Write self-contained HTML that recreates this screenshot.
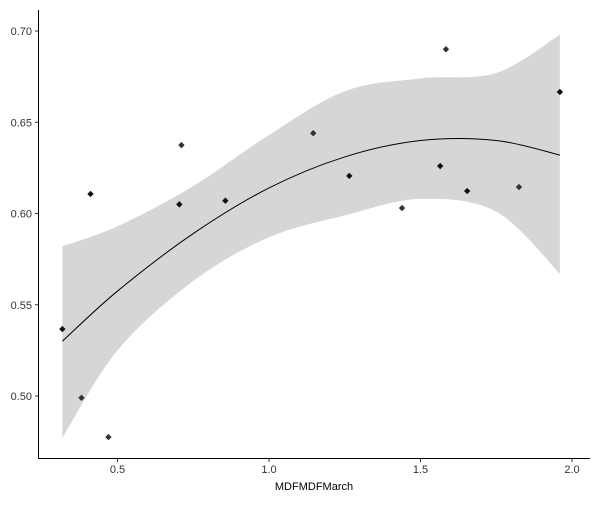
<!DOCTYPE html>
<html><head><meta charset="utf-8"><style>
body{margin:0;background:#fff}
svg text{font-family:"Liberation Sans",sans-serif}
</style></head><body>
<svg id="chart" width="600" height="500"></svg>
<script>
const xs=[0.318,0.381,0.411,0.470,0.704,0.711,0.856,1.146,1.265,1.439,1.565,1.584,1.654,1.825,1.960];
const ys=[0.5367,0.499,0.6107,0.4775,0.605,0.6375,0.607,0.644,0.6206,0.603,0.626,0.690,0.6123,0.6145,0.6666];
const fitX=[0.318,0.5,0.75,1.0,1.25,1.5,1.75,1.960];
const fitY=[0.530,0.5575,0.589,0.614,0.631,0.640,0.640,0.632];
const upperY=[0.582,0.593,0.615,0.643,0.667,0.674,0.677,0.698];
const lowerY=[0.477,0.525,0.563,0.587,0.599,0.608,0.601,0.567];
const xTicks=[0.5,1.0,1.5,2.0];
const xTickLabels=["0.5","1.0","1.5","2.0"];
const yTicks=[0.50,0.55,0.60,0.65,0.70];
const yTickLabels=["0.50","0.55","0.60","0.65","0.70"];
const NS="http://www.w3.org/2000/svg";
const svg=document.getElementById('chart');
const px=x=>117.5+(x-0.5)*303;
const py=v=>31+(0.70-v)*1825;
function el(t,a){const e=document.createElementNS(NS,t);for(const k in a)e.setAttribute(k,a[k]);svg.appendChild(e);return e;}
function smooth(X,Y){
  const p=X.map((x,i)=>[px(x),py(Y[i])]);
  let d="M"+p[0][0]+","+p[0][1];
  for(let i=0;i<p.length-1;i++){
    const p0=p[Math.max(0,i-1)],p1=p[i],p2=p[i+1],p3=p[Math.min(p.length-1,i+2)];
    const c1=[p1[0]+(p2[0]-p0[0])/6,p1[1]+(p2[1]-p0[1])/6];
    const c2=[p2[0]-(p3[0]-p1[0])/6,p2[1]-(p3[1]-p1[1])/6];
    d+=" C"+c1+" "+c2+" "+p2;
  }
  return d;
}
const up=smooth(fitX,upperY);
const rx=fitX.slice().reverse(),rl=lowerY.slice().reverse();
const lo=smooth(rx,rl).replace(/^M/,"L");
const band=el('path',{d:up+" "+lo+" Z",fill:"#d6d6d6"});


xs.forEach((x,i)=>{
  const cx=px(x),cy=py(ys[i]),s=3.2;
  const c=el('path',{d:`M${cx},${cy-s} L${cx+s},${cy} L${cx},${cy+s} L${cx-s},${cy} Z`,fill:(i%2?"#333":"#111")});
  
  
});
const line=el('path',{d:smooth(fitX,fitY),fill:"none",stroke:"#000","stroke-width":1});


const ya=el('line',{x1:38.5,y1:10,x2:38.5,y2:458.5,stroke:"#000","stroke-width":1});


const xa=el('line',{x1:38,y1:458.5,x2:590,y2:458.5,stroke:"#000","stroke-width":1});


yTicks.forEach((v,i)=>{
  el('line',{x1:35,x2:38.5,y1:py(v),y2:py(v),stroke:"#333"});
  const t=el('text',{x:32,y:py(v)+4,"text-anchor":"end","font-size":11,fill:"#333"});
  t.textContent=yTickLabels[i];
  
  
});
xTicks.forEach((v,i)=>{
  el('line',{x1:px(v),x2:px(v),y1:458.5,y2:462,stroke:"#333"});
  const t=el('text',{x:px(v),y:473,"text-anchor":"middle","font-size":11,fill:"#333"});
  t.textContent=xTickLabels[i];
  
  
});
const xt=el('text',{x:314,y:490,"text-anchor":"middle","font-size":11,fill:"#000"});
xt.textContent="MDFMDFMarch";


</script>
</body></html>
